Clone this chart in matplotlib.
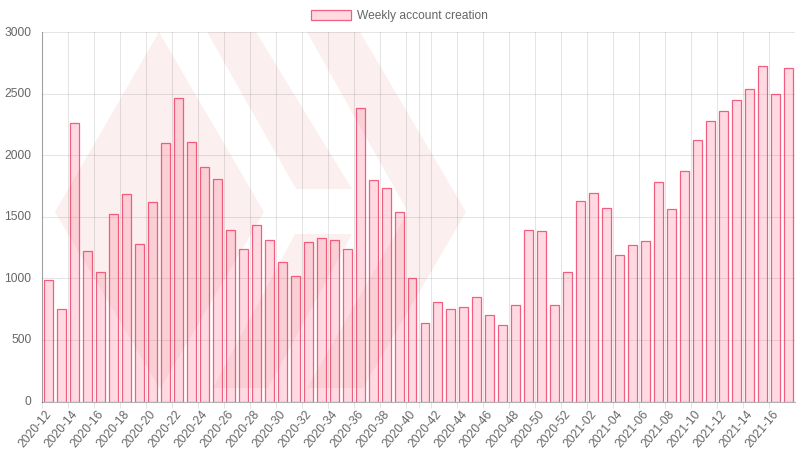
import matplotlib
matplotlib.use("Agg")
import matplotlib.pyplot as plt
from matplotlib.patches import Polygon
from matplotlib.transforms import IdentityTransform, ScaledTranslation

plt.rcParams['font.family'] = ['Liberation Sans', 'DejaVu Sans']

W, H = 798, 450

weeks_2020 = [f"2020-{w:02d}" for w in range(12, 53)]
weeks_2021 = [f"2021-{w:02d}" for w in range(1, 18)]
weeks = weeks_2020 + weeks_2021

accounts = [
    985, 750, 2265, 1220, 1055, 1525, 1685, 1280, 1620, 2100,
    2465, 2110, 1900, 1805, 1395, 1240, 1430, 1310, 1130, 1020,
    1295, 1330, 1315, 1235, 2385, 1800, 1730, 1540, 1005, 640,
    810, 750, 770, 850, 700, 625, 785, 1390, 1385, 785,
    1050, 1630, 1695, 1570, 1190, 1270, 1300, 1780, 1560, 1870,
    2120, 2280, 2360, 2450, 2540, 2720, 2500, 2710,
]
series_label = "Weekly account creation"
y_ticks = [0, 500, 1000, 1500, 2000, 2500, 3000]

label_every = 2
extra_grid_week = "2020-41"

FILL = (1.0, 0.39, 0.52, 0.23)
EDGE = (0.94, 0.27, 0.42, 0.85)
TEXT = "#666666"

# background watermark, pixel outlines (x, y from the top-left of the image)
watermark = [
    [(159, 32), (264, 212), (160, 389), (55, 212)],
    [(207, 32), (256, 32), (352, 189), (296, 189)],
    [(307, 32), (360, 32), (466, 212), (363, 388), (307, 388), (408, 212)],
    [(213, 388), (295, 234), (352, 234), (268, 388)],
]

fig = plt.figure(figsize=(W / 100, H / 100), dpi=100)
left, right, top, bottom = 42.0, 795.0, 32.0, 401.5
ax = fig.add_axes([left / W, 1 - bottom / H, (right - left) / W, (bottom - top) / H])

for outline in watermark:
    pts = [(x, H - y) for x, y in outline]
    ax.add_patch(Polygon(pts, closed=True, transform=IdentityTransform(),
                         facecolor="#FBF0EF", edgecolor="none", zorder=0.2, clip_on=False))

positions = list(range(len(weeks)))
ax.bar(positions, accounts, width=0.69, color=[FILL], edgecolor=[EDGE], linewidth=0.9,
       label=series_label, zorder=3)

ax.set_xlim(-0.5, len(weeks) - 0.5)
ax.set_ylim(0, 3000)

shown = [i for i in positions if i % label_every == 0]
ax.set_xticks(shown)
ax.set_xticklabels([weeks[i] for i in shown], rotation=50, ha='right', rotation_mode='anchor',
                   fontsize=8.64, color=TEXT)
ax.tick_params(axis='x', which='major', length=0, pad=5)
shift = ScaledTranslation(-3.5 / 100, 0, fig.dpi_scale_trans)
for lab in ax.get_xticklabels():
    lab.set_transform(lab.get_transform() + shift)

edges = [i - 0.5 for i in shown] + [weeks.index(extra_grid_week) - 0.5]
ax.set_xticks(edges, minor=True)
ax.tick_params(axis='x', which='minor', length=4.5, width=0.72, color="#E5E5E5")
ax.grid(True, which='minor', axis='x', color="black", alpha=0.1, linewidth=0.8, zorder=1)

ax.set_yticks(y_ticks)
ax.tick_params(axis='y', length=0, pad=7.5, labelsize=8.64, labelcolor=TEXT)
ax.grid(True, which='major', axis='y', color="black", alpha=0.1, linewidth=0.8, zorder=1)
ax.set_axisbelow(True)
up = ScaledTranslation(0, 1 / 100, fig.dpi_scale_trans)
for lab in ax.get_yticklabels():
    lab.set_transform(lab.get_transform() + up)

for s in ('top', 'right'):
    ax.spines[s].set_visible(False)
for s in ('left', 'bottom'):
    ax.spines[s].set_color((0, 0, 0, 0.3))
    ax.spines[s].set_linewidth(0.8)
ax.patch.set_alpha(0)

leg = fig.legend(loc='center', bbox_to_anchor=(399 / W, 1 - 15.8 / H), frameon=False,
                 fontsize=8.64, handlelength=3.33, handleheight=1.0, handletextpad=0.5,
                 borderpad=0, labelcolor=TEXT)

fig.savefig("out.png", dpi=100, facecolor="white")
